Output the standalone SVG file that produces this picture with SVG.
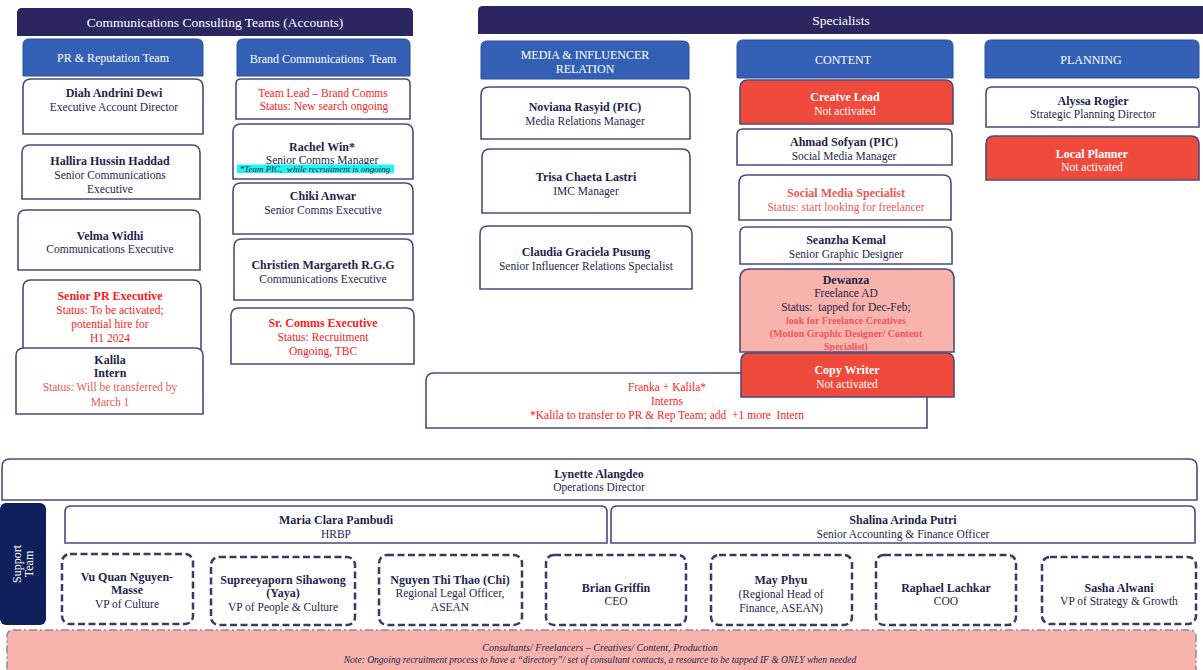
<svg xmlns="http://www.w3.org/2000/svg" width="1203" height="670" viewBox="0 0 1203 670" font-family="'Liberation Serif', Tinos, 'Times New Roman', 'DejaVu Serif', serif">
<style>
text{font-family:'Liberation Serif',Tinos,'Times New Roman','DejaVu Serif',serif;font-size:11.5px;fill:#1f1f4d;text-anchor:middle;white-space:pre}
.b{font-weight:bold;font-size:12px}
.w{fill:#fff}
.r{fill:#ff1a1a}
.rs{fill:#f25757}
.hdr{fill:#2b2660}
.team{fill:#3360b5;stroke:#2a4f99;stroke-width:1}
.box{fill:#fff;stroke:#4b4a7c;stroke-width:1.6}
.red{fill:#f04a3c;stroke:#4b4a7c;stroke-width:1.6}
.pink{fill:#f7b3ac;stroke:#4b4a7c;stroke-width:1.6}
.dash{fill:#fff;stroke:#3a3a68;stroke-width:2.5;stroke-dasharray:7 3.5}
.ht{font-size:13.5px;fill:#fff}
.tt{font-size:12px;fill:#fff}
.it{font-style:italic;font-size:10px}
</style>
<rect width="1203" height="670" fill="#fff"/>
<g id="hdr-accounts"><path class="hdr" d="M17 36 V13 Q17 8 22 8 H408 Q413 8 413 13 V36 Z"/><text class="ht" x="215" y="27">Communications Consulting Teams (Accounts)</text></g>
<g id="hdr-specialists"><path class="hdr" d="M478 34 V11 Q478 6 483 6 H1203 V34 Z"/><text class="ht" x="841" y="25">Specialists</text></g>
<g id="team-pr"><path class="team" d="M23 76 V45 Q23 39 29 39 H197 Q203 39 203 45 V76 Z"/><text class="tt" x="113" y="62">PR &amp; Reputation Team</text></g>
<g id="team-brand"><path class="team" d="M237 76 V45 Q237 39 243 39 H404 Q410 39 410 45 V76 Z"/><text class="tt" x="323" y="63" xml:space="preserve">Brand Communications  Team</text></g>
<g id="team-media"><path class="team" d="M481 79 V47 Q481 41 487 41 H683 Q689 41 689 47 V79 Z"/><text class="tt" x="585" y="59">MEDIA &amp; INFLUENCER</text><text class="tt" x="585" y="73">RELATION</text></g>
<g id="team-content"><path class="team" d="M737 78 V46 Q737 40 743 40 H947 Q953 40 953 46 V78 Z"/><text class="tt" x="843" y="64">CONTENT</text></g>
<g id="team-planning"><path class="team" d="M985 78 V46 Q985 40 991 40 H1193 Q1199 40 1199 46 V78 Z"/><text class="tt" x="1091" y="64">PLANNING</text></g>

<g id="diah"><path class="box" d="M23 134 V87 Q23 79 31 79 H195 Q203 79 203 87 V134 Z"/><text class="b" x="114" y="97">Diah Andrini Dewi</text><text x="114" y="111">Executive Account Director</text></g>
<g id="hallira"><path class="box" d="M22 199 V153 Q22 145 30 145 H192 Q200 145 200 153 V199 Z"/><text class="b" x="110" y="165">Hallira Hussin Haddad</text><text x="110" y="179">Senior Communications</text><text x="110" y="193">Executive</text></g>
<g id="velma"><path class="box" d="M18 270 V218 Q18 210 26 210 H192 Q200 210 200 218 V270 Z"/><text class="b" x="110" y="240">Velma Widhi</text><text x="110" y="253">Communications Executive</text></g>
<g id="senior-pr"><path class="box" d="M23 352 V288 Q23 280 31 280 H193 Q201 280 201 288 V352 Z"/><text class="b r" x="110" y="300">Senior PR Executive</text><text class="r" x="110" y="314">Status: To be activated;</text><text class="r" x="110" y="328">potential hire for</text><text class="r" x="110" y="342">H1 2024</text></g>
<g id="kalila"><path class="box" d="M16 414 V356 Q16 348 24 348 H195 Q203 348 203 356 V414 Z"/><text class="b" x="110" y="364">Kalila</text><text class="b" x="110" y="377">Intern</text><text class="rs" x="110" y="391">Status: Will be transferred by</text><text class="rs" x="110" y="406">March 1</text></g>

<g id="team-lead"><path class="box" d="M236 119 V84 Q236 79 241 79 H405 Q410 79 410 84 V119 Z"/><text class="r" x="323" y="97">Team Lead – Brand Comms</text><text class="r" x="324" y="110">Status: New search ongoing</text></g>
<g id="rachel"><path class="box" d="M233 179 V132 Q233 124 241 124 H405 Q413 124 413 132 V179 Z"/><text class="b" x="322" y="151">Rachel Win*</text><text x="322" y="164">Senior Comms Manager</text><rect x="237" y="164.5" width="157" height="8.5" fill="#1ff5f0"/><text class="it" x="315" y="172" style="font-size:9px" xml:space="preserve">*Team PIC,  while recruitment is ongoing</text></g>
<g id="chiki"><path class="box" d="M233 234 V191 Q233 183 241 183 H405 Q413 183 413 191 V234 Z"/><text class="b" x="323" y="200">Chiki Anwar</text><text x="323" y="214">Senior Comms Executive</text></g>
<g id="christien"><path class="box" d="M234 300 V247 Q234 239 242 239 H405 Q413 239 413 247 V300 Z"/><text class="b" x="323" y="269">Christien Margareth R.G.G</text><text x="323" y="283">Communications Executive</text></g>
<g id="sr-comms"><path class="box" d="M231 364 V316 Q231 308 239 308 H406 Q414 308 414 316 V364 Z"/><text class="b r" x="323" y="327">Sr. Comms Executive</text><text class="r" x="323" y="341">Status: Recruitment</text><text class="r" x="323" y="355">Ongoing, TBC</text></g>

<g id="noviana"><path class="box" d="M481 139 V95 Q481 87 489 87 H682 Q690 87 690 95 V139 Z"/><text class="b" x="585" y="111">Noviana Rasyid (PIC)</text><text x="585" y="125">Media Relations Manager</text></g>
<g id="trisa"><path class="box" d="M482 213 V157 Q482 149 490 149 H682 Q690 149 690 157 V213 Z"/><text class="b" x="586" y="181">Trisa Chaeta Lastri</text><text x="586" y="195">IMC Manager</text></g>
<g id="claudia"><path class="box" d="M480 289 V234 Q480 226 488 226 H684 Q692 226 692 234 V289 Z"/><text class="b" x="586" y="256">Claudia Graciela Pusung</text><text x="586" y="270">Senior Influencer Relations Specialist</text></g>

<g id="creative-lead"><path class="red" d="M740 124 V88 Q740 80 748 80 H945 Q953 80 953 88 V124 Z"/><text class="b w" x="845" y="101">Creatve Lead</text><text class="w" x="845" y="115">Not activated</text></g>
<g id="ahmad"><path class="box" d="M737 165 V135 Q737 129 743 129 H946 Q952 129 952 135 V165 Z"/><text class="b" x="844" y="146">Ahmad Sofyan (PIC)</text><text x="844" y="160">Social Media Manager</text></g>
<g id="sms"><path class="box" d="M739 220 V183 Q739 175 747 175 H943 Q951 175 951 183 V220 Z"/><text class="b rs" x="846" y="197">Social Media Specialist</text><text class="rs" x="846" y="211">Status: start looking for freelancer</text></g>
<g id="seanzha"><path class="box" d="M740 264 V233 Q740 227 746 227 H946 Q952 227 952 233 V264 Z"/><text class="b" x="846" y="244">Seanzha Kemal</text><text x="846" y="258">Senior Graphic Designer</text></g>
<g id="dewanza"><path class="pink" d="M740 352 V279 Q740 269 750 269 H944 Q954 269 954 279 V352 Z"/><text class="b" x="846" y="284">Dewanza</text><text x="846" y="297">Freelance AD</text><text x="846" y="311" xml:space="preserve">Status:  tapped for Dec-Feb;</text><text class="b rs" x="846" y="324" style="font-size:10px">look for Freelance Creatives</text><text class="b rs" x="846" y="337" style="font-size:10px">(Motion Graphic Designer/ Content</text><text class="b rs" x="846" y="350" style="font-size:10px">Specialist)</text></g>
<g id="franka"><path class="box" d="M426 428 V381 Q426 373 434 373 H919 Q927 373 927 381 V428 Z"/><text class="r" x="667" y="391">Franka + Kalila*</text><text class="r" x="667" y="405">Interns</text><text class="r" x="667" y="419" xml:space="preserve">*Kalila to transfer to PR &amp; Rep Team; add  +1 more  Intern</text></g>
<g id="copy-writer"><path class="red" d="M741 397 V361 Q741 353 749 353 H946 Q954 353 954 361 V397 Z"/><text class="b w" x="847" y="374">Copy Writer</text><text class="w" x="847" y="388">Not activated</text></g>

<g id="alyssa"><path class="box" d="M986 127 V93 Q986 87 992 87 H1193 Q1199 87 1199 93 V127 Z"/><text class="b" x="1093" y="105">Alyssa Rogier</text><text x="1093" y="118">Strategic Planning Director</text></g>
<g id="local-planner"><path class="red" d="M986 180 V144 Q986 136 994 136 H1191 Q1199 136 1199 144 V180 Z"/><text class="b w" x="1092" y="158">Local Planner</text><text class="w" x="1092" y="171">Not activated</text></g>

<g id="lynette"><path class="box" d="M2 500 V467 Q2 459 10 459 H1189 Q1197 459 1197 467 V500 Z"/><text class="b" x="599" y="478">Lynette Alangdeo</text><text x="599" y="491">Operations Director</text></g>
<g id="support-team"><rect x="0" y="503" width="46" height="122" rx="6" fill="#0f1f5c"/><text class="w" transform="translate(21 564) rotate(-90)" style="font-size:12px">Support</text><text class="w" transform="translate(33 564) rotate(-90)" style="font-size:12px">Team</text></g>
<g id="maria"><path class="box" d="M65 543 V512 Q65 506 71 506 H601 Q607 506 607 512 V543 Z"/><text class="b" x="336" y="524">Maria Clara Pambudi</text><text x="336" y="538">HRBP</text></g>
<g id="shalina"><path class="box" d="M611 543 V512 Q611 506 617 506 H1189 Q1195 506 1195 512 V543 Z"/><text class="b" x="903" y="524">Shalina Arinda Putri</text><text x="903" y="538">Senior Accounting &amp; Finance Officer</text></g>

<g id="vu"><rect class="dash" x="62" y="554" width="131" height="70" rx="8"/><text class="b" x="127" y="581">Vu Quan Nguyen-</text><text class="b" x="127" y="594">Masse</text><text x="127" y="608">VP of Culture</text></g>
<g id="supreeyaporn"><rect class="dash" x="211" y="557" width="144" height="68" rx="8"/><text class="b" x="283" y="584">Supreeyaporn Sihawong</text><text class="b" x="283" y="597">(Yaya)</text><text x="283" y="611">VP of People &amp; Culture</text></g>
<g id="nguyen"><rect class="dash" x="379" y="555" width="143" height="70" rx="8"/><text class="b" x="450" y="584">Nguyen Thi Thao (Chi)</text><text x="450" y="597">Regional Legal Officer,</text><text x="450" y="611">ASEAN</text></g>
<g id="brian"><rect class="dash" x="546" y="555" width="140" height="70" rx="8"/><text class="b" x="616" y="592">Brian Griffin</text><text x="616" y="605">CEO</text></g>
<g id="may"><rect class="dash" x="711" y="555" width="141" height="70" rx="8"/><text class="b" x="781" y="584">May Phyu</text><text x="781" y="598">(Regional Head of</text><text x="781" y="612">Finance, ASEAN)</text></g>
<g id="raphael"><rect class="dash" x="876" y="555" width="140" height="70" rx="8"/><text class="b" x="946" y="592">Raphael Lachkar</text><text x="946" y="605">COO</text></g>
<g id="sasha"><rect class="dash" x="1042" y="557" width="154" height="67" rx="8"/><text class="b" x="1119" y="592">Sasha Alwani</text><text x="1119" y="605">VP of Strategy &amp; Growth</text></g>

<g id="consultants"><rect x="7" y="630" width="1189" height="46" rx="6" fill="#f7b3ac" stroke="#8a8aa0" stroke-width="1.5" stroke-dasharray="8 3 2 3"/><text class="it" x="600" y="651">Consultants/ Freelancers – Creatives/ Content, Production</text><text class="it" x="600" y="663" style="font-size:9.5px">Note: Ongoing recruitment process to have a “directory”/ set of consultant contacts, a resource to be tapped IF &amp; ONLY when needed</text></g>
<g id="connectors"></g>
</svg>
